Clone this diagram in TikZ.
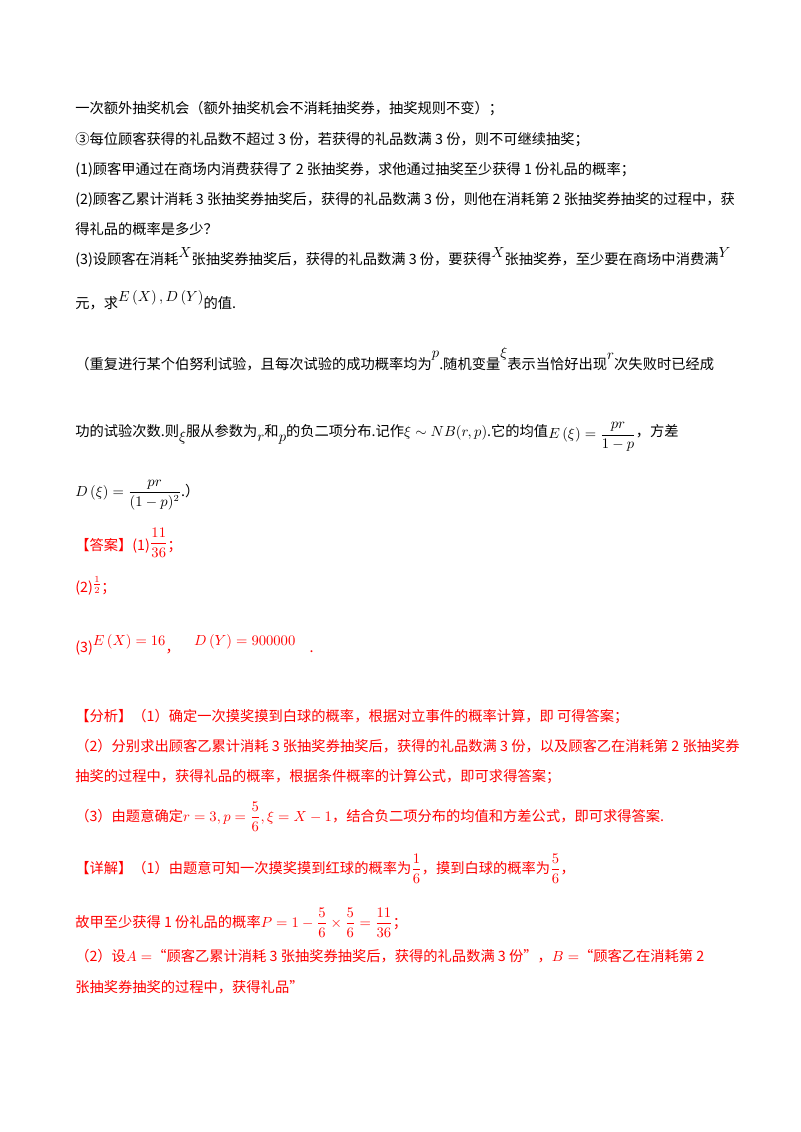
\documentclass[tikz,border=0pt]{standalone}
\usepackage{fontspec}
\usepackage{amsmath}
\setmainfont{Liberation Serif}
\newfontfamily\cjk{Noto Sans CJK SC}
\begin{document}
\begin{tikzpicture}[x=0.75pt,y=-0.75pt,
  ln/.style={anchor=base west,inner sep=0pt,font=\cjk\fontsize{10.7}{13}\selectfont},
  rd/.style={ln,text=red}]
\useasboundingbox (0,0) rectangle (800,1132);
\newcommand\up[1]{\raisebox{5pt}{$#1$}}
\newcommand\dn[1]{\raisebox{-4pt}{$#1$}}
\node[ln] (l1) at (75,113) {一次额外抽奖机会（额外抽奖机会不消耗抽奖券，抽奖规则不变）；};
\node[ln] (l2) at (75,144) {③每位顾客获得的礼品数不超过 3 份，若获得的礼品数满 3 份，则不可继续抽奖；};
\node[ln] (l3) at (75,174) {(1)顾客甲通过在商场内消费获得了 2 张抽奖券，求他通过抽奖至少获得 1 份礼品的概率；};
\node[ln] (l4) at (75,204) {(2)顾客乙累计消耗 3 张抽奖券抽奖后，获得的礼品数满 3 份，则他在消耗第 2 张抽奖券抽奖的过程中，获};
\node[ln] (l5) at (75,234) {得礼品的概率是多少？};
\node[ln] (l6) at (75,264) {(3)设顾客在消耗\up{X}张抽奖券抽奖后，获得的礼品数满 3 份，要获得\up{X}张抽奖券，至少要在商场中消费满\up{Y}};
\node[ln] (l7) at (75,308) {元，求\up{E\left(X\right),D\left(Y\right)}的值.};
\node[ln] (l8) at (75,369) {（重复进行某个伯努利试验，且每次试验的成功概率均为\raisebox{9pt}{$p$}.随机变量\raisebox{9pt}{$\xi$}表示当恰好出现\raisebox{7pt}{$r$}次失败时已经成};
\node[ln] (l9) at (75,436) {功的试验次数.则\dn{\xi}服从参数为\dn{r}和\dn{p}的负二项分布.记作$\xi\sim NB(r,p)$.它的均值\raisebox{-2pt}{$E\left(\xi\right)=\dfrac{pr}{1-p}$}，方差};
\node[ln] (l10) at (75,496) {$D\left(\xi\right)=\dfrac{pr}{(1-p)^2}$.）};
\node[rd] (a1) at (75,550) {【答案】(1)\raisebox{2pt}{$\dfrac{11}{36}$}；};
\node[rd] (a2) at (75,592) {(2)\raisebox{3pt}{$\tfrac12$}；};
\node[rd] (a3) at (75,652) {(3)\up{E\left(X\right)=16}，\quad\up{D\left(Y\right)=900000}\quad.};
\node[rd] (b1) at (75,721) {【分析】（1）确定一次摸奖摸到白球的概率，根据对立事件的概率计算，即 可得答案；};
\node[rd] (b2) at (75,751) {（2）分别求出顾客乙累计消耗 3 张抽奖券抽奖后，获得的礼品数满 3 份，以及顾客乙在消耗第 2 张抽奖券};
\node[rd] (b3) at (75,781) {抽奖的过程中，获得礼品的概率，根据条件概率的计算公式，即可求得答案；};
\node[rd] (b4) at (75,821) {（3）由题意确定\raisebox{0pt}{$r=3,p=\dfrac56,\xi=X-1$}，结合负二项分布的均值和方差公式，即可求得答案.};
\node[rd] (c1) at (75,873) {【详解】（1）由题意可知一次摸奖摸到红球的概率为$\dfrac16$，摸到白球的概率为$\dfrac56$，};
\node[rd] (c2) at (75,927) {故甲至少获得 1 份礼品的概率$P=1-\dfrac56\times\dfrac56=\dfrac{11}{36}$；};
\node[rd] (c3) at (75,961) {（2）设$A=$“顾客乙累计消耗 3 张抽奖券抽奖后，获得的礼品数满 3 份”，$B=$“顾客乙在消耗第 2};
\node[rd] (c4) at (75,992) {张抽奖券抽奖的过程中，获得礼品”};
\end{tikzpicture}
\end{document}
